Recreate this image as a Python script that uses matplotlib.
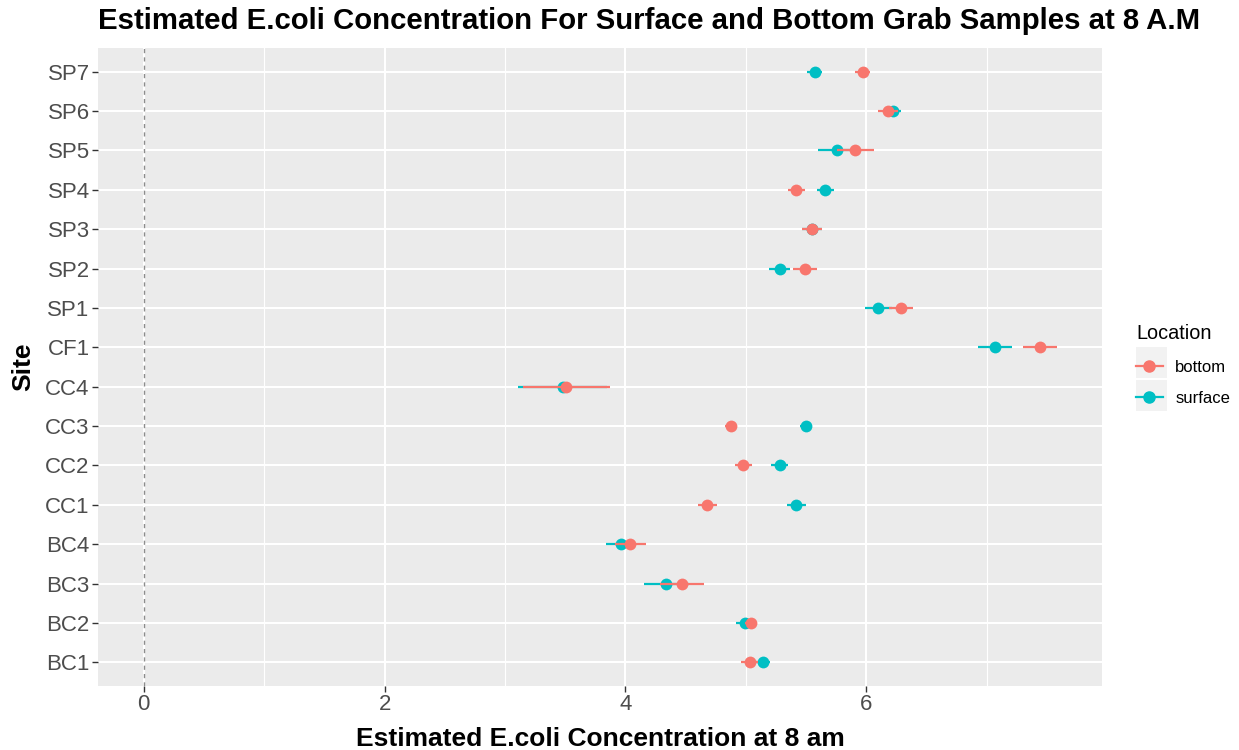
import numpy as np
import matplotlib
matplotlib.use("Agg")
import matplotlib.pyplot as plt
from matplotlib.lines import Line2D
from matplotlib.patches import Rectangle

# data (log10 E.coli estimates, +/- half-width)
sites = ["BC1", "BC2", "BC3", "BC4", "CC1", "CC2", "CC3", "CC4",
         "CF1", "SP1", "SP2", "SP3", "SP4", "SP5", "SP6", "SP7"]
bottom_est = [5.03, 5.04, 4.47, 4.04, 4.68, 4.98, 4.875, 3.51,
              7.44, 6.29, 5.49, 5.55, 5.42, 5.91, 6.18, 5.97]
bottom_err = [0.07, 0.05, 0.18, 0.13, 0.08, 0.07, 0.05, 0.36,
              0.14, 0.10, 0.10, 0.08, 0.07, 0.15, 0.08, 0.06]
surface_est = [5.14, 4.99, 4.34, 3.96, 5.42, 5.28, 5.50, 3.48,
               7.07, 6.10, 5.28, 5.55, 5.66, 5.76, 6.22, 5.57]
surface_err = [0.06, 0.07, 0.19, 0.12, 0.08, 0.07, 0.05, 0.37,
               0.14, 0.11, 0.09, 0.08, 0.07, 0.16, 0.07, 0.065]

C_BOT, C_SUR = "#F8766D", "#00BFC4"
plt.rcParams["font.family"] = ["Liberation Sans", "DejaVu Sans"]

W, H = 1239, 750
fig = plt.figure(figsize=(W / 100, H / 100), dpi=100)
# panel: x 98..1102 px, y 48..686 px
ax = fig.add_axes([98 / W, 1 - 686 / H, 1004 / W, 638 / H])
ax.set_facecolor("#EBEBEB")
for s in ax.spines.values():
    s.set_visible(False)

y = np.arange(1, len(sites) + 1)

# grid (ggplot style: major + minor)
for v in [1, 3, 5, 7]:
    ax.axvline(v, color="white", lw=0.8, zorder=0)
for v in [0, 2, 4, 6]:
    ax.axvline(v, color="white", lw=1.5, zorder=0)
for v in y:
    ax.axhline(v, color="white", lw=1.5, zorder=0)

ax.axvline(0, color="#8C8C8C", lw=1.0, ls=(0, (3, 3)), zorder=1)

ax.errorbar(surface_est, y, xerr=surface_err, fmt="o", color=C_SUR,
            ecolor=C_SUR, elinewidth=1.6, capsize=0, markersize=8.5,
            markeredgewidth=0, zorder=3)
ax.errorbar(bottom_est, y, xerr=bottom_err, fmt="o", color=C_BOT,
            ecolor=C_BOT, elinewidth=1.6, capsize=0, markersize=8.5,
            markeredgewidth=0, zorder=4)

ax.set_xlim(-0.38, 7.957)
ax.set_ylim(0.4, 16.6)
ax.set_xticks([0, 2, 4, 6])
ax.set_yticks(y)
ax.set_yticklabels(sites)
ax.tick_params(axis="both", colors="#333333", labelcolor="#4D4D4D",
               labelsize=16, length=4, width=1, pad=2)

ax.set_xlabel("Estimated E.coli Concentration at 8 am", fontsize=19,
              fontweight="bold", color="black")
ax.xaxis.set_label_coords(0.5, -0.064)
ax.set_ylabel("Site", fontsize=19, fontweight="bold", color="black")
ax.yaxis.set_label_coords(-0.063, 0.5)
ax.set_title("Estimated E.coli Concentration For Surface and Bottom Grab Samples at 8 A.M",
             fontsize=21.2, fontweight="bold", loc="left", pad=14)

# legend key backgrounds
for top in (347, 380):
    fig.patches.append(Rectangle((1136 / W, 1 - (top + 31) / H), 31 / W, 31 / H,
                                 transform=fig.transFigure, facecolor="#F2F2F2",
                                 edgecolor="none", zorder=0))

handles = [Line2D([], [], color=C_BOT, marker="o", markersize=8, lw=1.6, label="bottom"),
           Line2D([], [], color=C_SUR, marker="o", markersize=8, lw=1.6, label="surface")]
leg = fig.legend(handles=handles, title="Location", loc="upper left",
                 bbox_to_anchor=(1136 / W, 1 - 324 / H), frameon=False,
                 fontsize=12, title_fontsize=14.3, handlelength=1.6,
                 handletextpad=0.75, labelspacing=1.0, borderpad=0,
                 borderaxespad=0, alignment="left")

fig.savefig("out.png", dpi=100)
